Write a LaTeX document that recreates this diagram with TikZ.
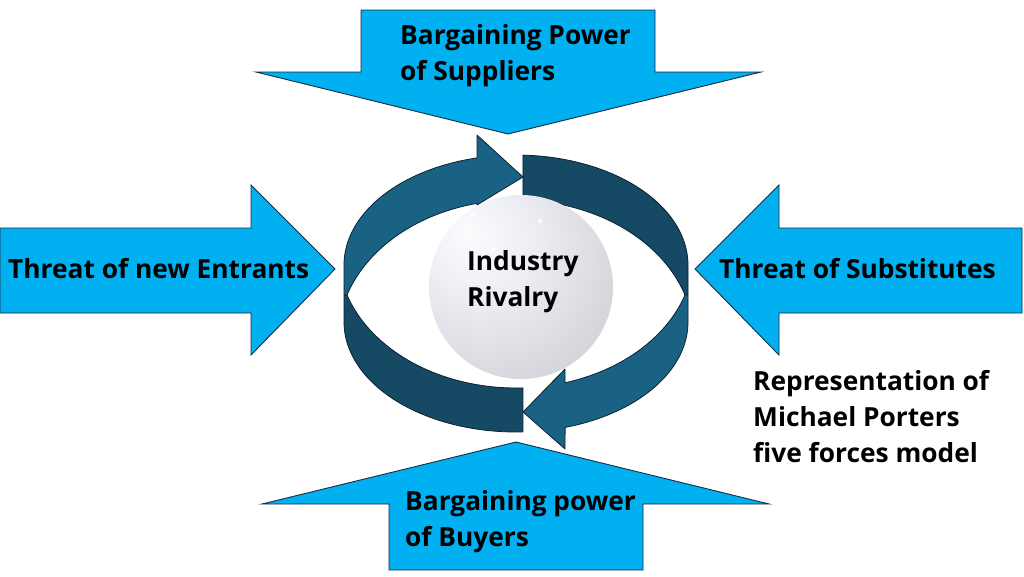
\documentclass[tikz,border=0pt]{standalone}
\usepackage{fontspec}
\setmainfont{Open Sans}
\definecolor{fcyan}{RGB}{0,176,240}
\definecolor{fline}{RGB}{25,45,65}
\definecolor{ringL}{RGB}{26,98,131}
\definecolor{ringD}{RGB}{22,73,100}
\definecolor{ringE}{RGB}{10,35,50}
\definecolor{sphA}{RGB}{252,252,254}
\definecolor{sphB}{RGB}{236,238,244}
\definecolor{sphC}{RGB}{210,211,217}
\definecolor{sphD}{RGB}{178,174,172}
\definecolor{sphE}{RGB}{150,145,140}
\pgfdeclareradialshading{myball}{\pgfpoint{-15bp}{15bp}}{color(0bp)=(sphA); color(15bp)=(sphB); color(38bp)=(sphC); color(58bp)=(sphD); color(75bp)=(sphE)}
\tikzset{
  force/.style={fill=fcyan, draw=fline, line width=0.9pt, line join=miter},
  band/.style={draw=ringE, line width=0.8pt, line join=round},
  lab/.style={anchor=base west, inner sep=0pt, font=\fontsize{26.3}{36}\selectfont\bfseries}
}
\begin{document}
\begin{tikzpicture}[x=1pt, y=-1pt]
\useasboundingbox[fill=white] (0,0) rectangle (1024,576);
% five force arrows
\draw[force] (361,10) -- (655,10) -- (655,72) -- (761,72) -- (508,134) -- (256,72) -- (361,72) -- cycle;
\draw[force] (516,442) -- (769,504) -- (643,504) -- (643,570) -- (389,570) -- (389,504) -- (262,504) -- cycle;
\draw[force] (0,228) -- (251,228) -- (251,185) -- (335,269) -- (251,355) -- (251,313) -- (0,313) -- cycle;
\draw[force] (695,269) -- (779,185) -- (779,228) -- (1022,228) -- (1022,313) -- (779,313) -- (779,355) -- cycle;
% ring: dark parts
\draw[band, fill=ringD] plot[domain=87.7:0, samples=40] ({516+172*cos(\x)},{265-110*sin(\x)}) -- (688,295) -- (685,295) -- plot[domain=18.3:87.75, samples=40] ({516+178*cos(\x)},{338.5-138.5*sin(\x)}) -- cycle;
\draw[band, fill=ringD] plot[domain=-87.7:-180, samples=40] ({516+172*cos(\x)},{322-110*sin(\x)}) -- (344,295) -- (347,295) -- plot[domain=-161.7:-87.75, samples=40] ({516+178*cos(\x)},{252.4-135.6*sin(\x)}) -- cycle;
% ring: light parts with heads
\draw[band, fill=ringL] (347,295) -- (344,295) -- plot[domain=180:103.1, samples=40] ({516+172*cos(\x)},{265-110*sin(\x)}) -- (477,135) -- (523,177) -- (477,205) -- plot[domain=102.7:161.7, samples=40] ({516+178*cos(\x)},{338.5-138.5*sin(\x)}) -- cycle;
\draw[band, fill=ringL] (685,295) -- (688,295) -- plot[domain=0:-73.4, samples=40] ({516+172*cos(\x)},{322-110*sin(\x)}) -- (565,449) -- (523,412) -- (565,369) -- plot[domain=-74:-18.3, samples=40] ({516+178*cos(\x)},{252.4-135.6*sin(\x)}) -- cycle;
% sphere
\shade[shading=myball] (521,287) circle[radius=92];
\fill[white, opacity=0.7] (473,215) circle[radius=2.5];
\fill[white, opacity=0.7] (540,221) circle[radius=2.5];
\fill[white, opacity=0.7] (493,249) circle[radius=2.5];
% labels
\node[lab] (sup) at (400,44) {\begin{tabular}[t]{@{}l@{}}Bargaining Power\\of Suppliers\end{tabular}};
\node[lab] (buy) at (405,510) {\begin{tabular}[t]{@{}l@{}}Bargaining power\\of Buyers\end{tabular}};
\node[lab] (ent) at (8,278) {Threat of new Entrants};
\node[lab] (subs) at (719,278) {Threat of Substitutes};
\node[lab] (ind) at (467,270) {\begin{tabular}[t]{@{}l@{}}Industry\\Rivalry\end{tabular}};
\node[lab] (rep) at (753,390) {\begin{tabular}[t]{@{}l@{}}Representation of\\Michael Porters\\five forces model\end{tabular}};
\end{tikzpicture}
\end{document}
